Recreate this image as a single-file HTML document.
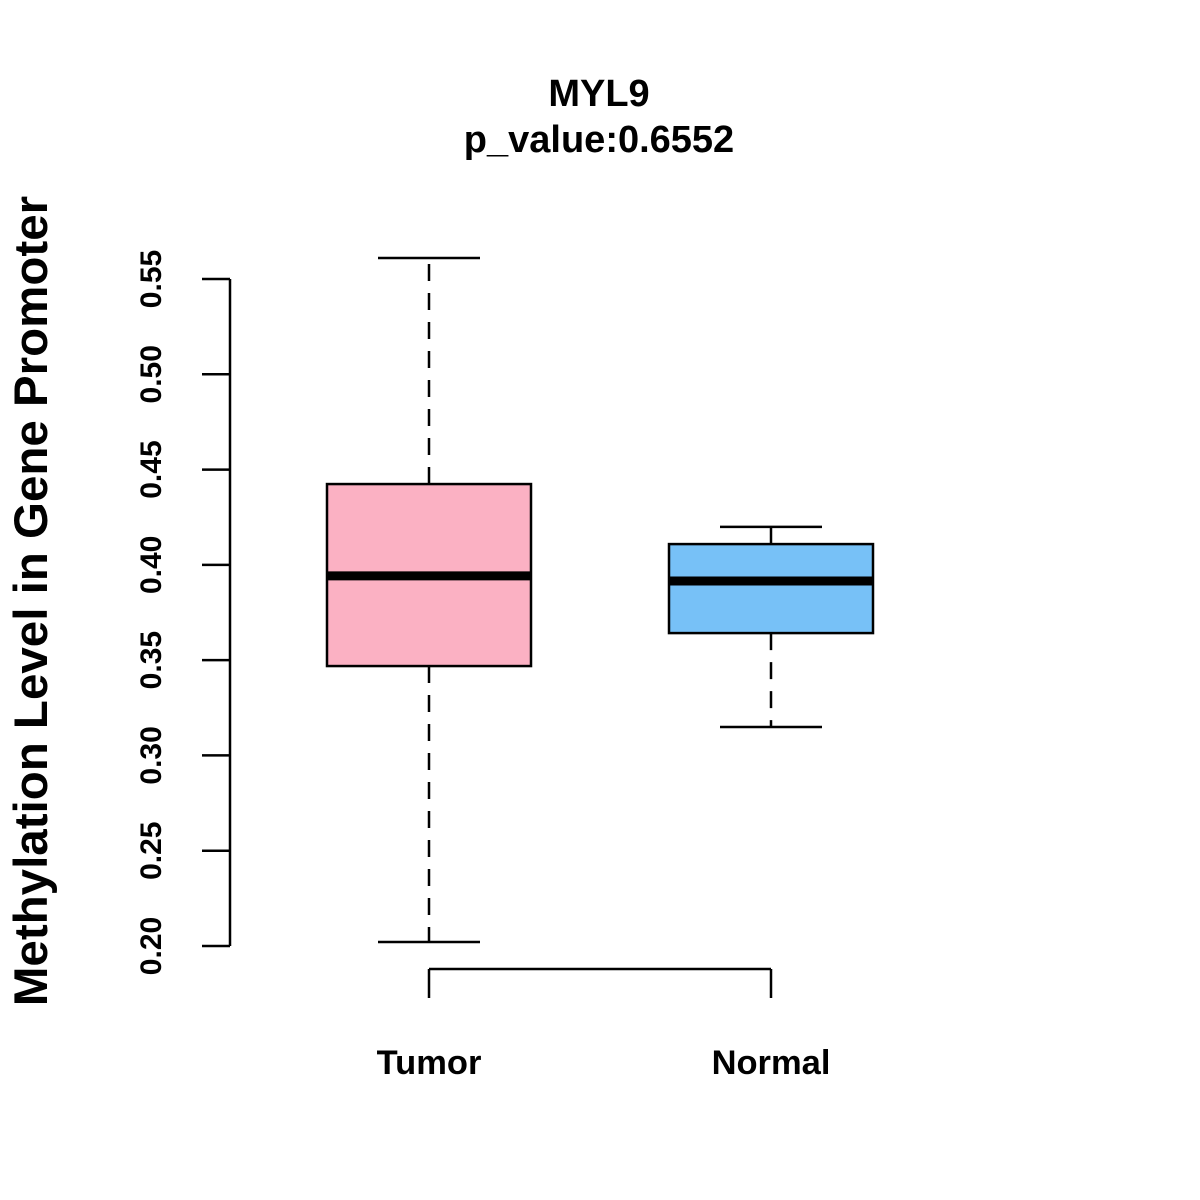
<!DOCTYPE html>
<html><head><meta charset="utf-8"><style>body{margin:0;background:#fff}svg{display:block}text{font-family:"Liberation Sans",Arial,sans-serif;font-weight:bold}</style></head>
<body>
<svg id="chart" width="1200" height="1200" xmlns="http://www.w3.org/2000/svg">
<rect width="1200" height="1200" fill="#fff"/>
<text x="599" y="106" font-size="38" text-anchor="middle">MYL9</text>
<text x="599" y="152" font-size="38" text-anchor="middle">p_value:0.6552</text>
<text transform="translate(47,601) rotate(-90)" font-size="47.5" text-anchor="middle">Methylation Level in Gene Promoter</text>
<g id="plot"></g>
</svg>
<script>
const categories = ["Tumor","Normal"];
const whiskerLow = [0.2021,0.3149];
const q1 = [0.3469,0.3642];
const median = [0.3942,0.3915];
const q3 = [0.4424,0.4109];
const whiskerHigh = [0.561,0.4199];
const colors = ["#FBB1C3","#77C1F7"];
const yTicks = [0.20,0.25,0.30,0.35,0.40,0.45,0.50,0.55];
const yTickLabels = ["0.20","0.25","0.30","0.35","0.40","0.45","0.50","0.55"];

const y = v => 946 - (v-0.20)/(0.35)*667;
const x = i => 429 + i*342;
const g = document.getElementById('plot');
const NS = "http://www.w3.org/2000/svg";
function mk(tag, attrs){const e=document.createElementNS(NS,tag);for(const k in attrs)e.setAttribute(k,attrs[k]);g.appendChild(e);return e;}

let ax = mk('line',{x1:230,x2:230,y1:y(yTicks[0]),y2:y(yTicks[yTicks.length-1]),stroke:'#000','stroke-width':2.5});


yTicks.forEach((t,i)=>{
  let l=mk('line',{x1:202,x2:230,y1:y(t),y2:y(t),stroke:'#000','stroke-width':2.5});
  
  
  let tx=mk('text',{transform:`translate(161,${y(t)}) rotate(-90)`,'font-size':30,'text-anchor':'middle'});
  tx.textContent=yTickLabels[i];
  
  
});
let xa = mk('line',{x1:x(0),x2:x(categories.length-1),y1:969,y2:969,stroke:'#000','stroke-width':2.5});


categories.forEach((c,i)=>{
  const cx=x(i);
  let t=mk('line',{x1:cx,x2:cx,y1:969,y2:998,stroke:'#000','stroke-width':2.5});
  
  
  let lb=mk('text',{x:cx,y:1074,'font-size':34.5,'text-anchor':'middle'});
  lb.textContent=c;
  
  
  const dash={stroke:'#000','stroke-width':2.5,'stroke-dasharray':'17,12'};
  let w1=mk('line',Object.assign({x1:cx,x2:cx,y1:y(q3[i]),y2:y(whiskerHigh[i])},dash));
  
  
  let w2=mk('line',Object.assign({x1:cx,x2:cx,y1:y(q1[i]),y2:y(whiskerLow[i])},dash));
  
  
  let c1=mk('line',{x1:cx-51,x2:cx+51,y1:y(whiskerHigh[i]),y2:y(whiskerHigh[i]),stroke:'#000','stroke-width':2.5});
  
  
  let c2=mk('line',{x1:cx-51,x2:cx+51,y1:y(whiskerLow[i]),y2:y(whiskerLow[i]),stroke:'#000','stroke-width':2.5});
  
  
  let b=mk('rect',{x:cx-102,width:204,y:y(q3[i]),height:y(q1[i])-y(q3[i]),fill:colors[i],stroke:'#000','stroke-width':2.5});
  
  
  let m=mk('line',{x1:cx-102,x2:cx+102,y1:y(median[i]),y2:y(median[i]),stroke:'#000','stroke-width':9});
  
  
});
</script>
</body></html>
